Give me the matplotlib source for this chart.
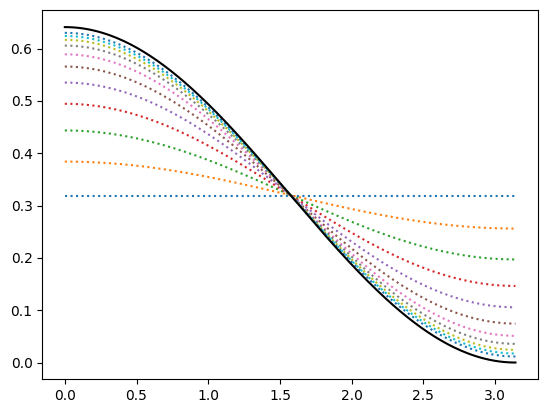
import numpy as np
import matplotlib
matplotlib.use("Agg")
from matplotlib import pyplot as plt

# each dotted curve: value at x = 0 and at x = pi
start_vals = [0.319, 0.384, 0.4435, 0.4945, 0.535, 0.5656, 0.589, 0.6057, 0.6166, 0.624, 0.630]
end_vals = [0.319, 0.256, 0.197, 0.1463, 0.1055, 0.0744, 0.051, 0.0357, 0.0242, 0.0172, 0.0115]
# limit curve (black)
limit_start = 0.641
limit_end = 0.0

x = np.linspace(0, np.pi, 200)


def curve(a, b):
    return (a + b) / 2 + (a - b) / 2 * np.cos(x)


fig = plt.figure(figsize=(5.47, 4.13), dpi=100)
ax = fig.add_axes([0.0773, 0.0816, 0.9062, 0.8934])

for a, b in zip(start_vals, end_vals):
    ax.plot(x, curve(a, b), ":")
ax.plot(x, curve(limit_start, limit_end), "k-")

fig.savefig("out.png", dpi=100)
